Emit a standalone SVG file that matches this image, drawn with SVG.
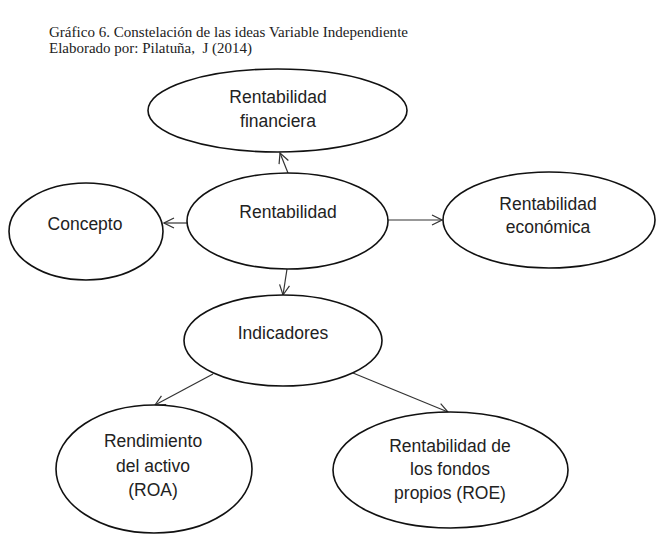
<svg xmlns="http://www.w3.org/2000/svg" width="660" height="534" viewBox="0 0 660 534">
<style>
.hdr{font-family:"Liberation Serif","Times New Roman",serif;font-size:14.8px;fill:#222}
.node ellipse{fill:#fff;stroke:#111;stroke-width:1.6}
.node text{font-family:"Liberation Sans",Arial,sans-serif;font-size:17.5px;fill:#222;text-anchor:middle}
.conn line{stroke:#333;stroke-width:1.2;marker-end:url(#arr)}
</style>
<defs>
<marker id="arr" viewBox="0 0 12 12" refX="11" refY="6" markerWidth="12" markerHeight="12" markerUnits="userSpaceOnUse" orient="auto">
<path d="M1,1 L11,6 L1,11" fill="none" stroke="#333" stroke-width="1.2"/>
</marker>
</defs>
<rect width="660" height="534" fill="#fff"/>
<text class="hdr" x="49" y="36.5" textLength="359" lengthAdjust="spacingAndGlyphs">Gráfico 6. Constelación de las ideas Variable Independiente</text>
<text class="hdr" x="49" y="53" xml:space="preserve" textLength="203" lengthAdjust="spacingAndGlyphs">Elaborado por: Pilatuña,  J (2014)</text>

<g id="connectors" class="conn">
<line x1="288" y1="173" x2="280" y2="153"/>
<line x1="187" y1="223" x2="164" y2="223"/>
<line x1="388" y1="220" x2="442" y2="220"/>
<line x1="287" y1="269" x2="283" y2="295"/>
<line x1="213" y1="374" x2="155" y2="405"/>
<line x1="353" y1="373" x2="448" y2="412"/>
</g>

<g id="financiera" class="node">
<ellipse cx="277.5" cy="110.5" rx="129.5" ry="41.5"/>
<text x="278" y="103">Rentabilidad</text>
<text x="278" y="127">financiera</text>
</g>
<g id="rentabilidad" class="node">
<ellipse cx="287.5" cy="221" rx="100.5" ry="48"/>
<text x="288" y="218">Rentabilidad</text>
</g>
<g id="concepto" class="node">
<ellipse cx="86" cy="231.5" rx="77" ry="48.5"/>
<text x="85" y="230">Concepto</text>
</g>
<g id="economica" class="node">
<ellipse cx="549" cy="220" rx="106" ry="48"/>
<text x="548" y="210">Rentabilidad</text>
<text x="548" y="233">económica</text>
</g>
<g id="indicadores" class="node">
<ellipse cx="283" cy="340.5" rx="99" ry="45.5"/>
<text x="283" y="339">Indicadores</text>
</g>
<g id="roa" class="node">
<ellipse cx="154" cy="469" rx="98" ry="64"/>
<text x="153" y="447">Rendimiento</text>
<text x="153" y="472">del activo</text>
<text x="153" y="496">(ROA)</text>
</g>
<g id="roe" class="node">
<ellipse cx="450.5" cy="470" rx="117.5" ry="58"/>
<text x="450" y="452">Rentabilidad de</text>
<text x="450" y="475">los fondos</text>
<text x="450" y="499">propios (ROE)</text>
</g>
</svg>
